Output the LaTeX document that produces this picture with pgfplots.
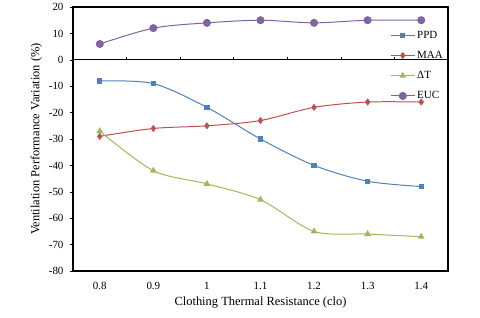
\documentclass[border=0pt]{standalone}
\usepackage{fontspec}
\setmainfont{Liberation Serif}
\usepackage{pgfplots}
\pgfplotsset{compat=1.18}
\definecolor{cPPD}{HTML}{4F81BD}
\definecolor{cMAA}{HTML}{C0504D}
\definecolor{cDT}{HTML}{9BBB59}
\definecolor{cEUC}{HTML}{8064A2}
\begin{document}
\begin{tikzpicture}
\begin{axis}[
  scale only axis,
  width=375bp, height=264bp,
  xmin=0.75, xmax=1.45,
  ymin=-80, ymax=20,
  xtick={0.8,0.9,1,1.1,1.2,1.3,1.4},
  xticklabels={0.8,0.9,1,1.1,1.2,1.3,1.4},
  ytick={-80,-70,...,20},
  x tick style={draw=none},
  ytick pos=left,
  tick align=outside,
  major tick length=3bp,
  axis line style={line width=1.1pt},
  y tick style={black, line width=0.6pt},
  every tick label/.style={font=\fontsize{11}{13}\selectfont},
  /pgf/number format/assume math mode=true,
  xticklabel style={yshift=-5bp},
  yticklabel style={xshift=-3bp},
  xlabel={Clothing Thermal Resistance (clo)},
  ylabel={Ventilation Performance Variation (\%)},
  label style={font=\fontsize{12.5}{14}\selectfont},
  ylabel style={yshift=0bp},
  legend style={at={(1,0.925)}, anchor=north east, draw=none, fill=none,
    font=\fontsize{11}{13}\selectfont, row sep=7.5bp,
    /tikz/every even column/.append style={column sep=2bp}},
  legend cell align=left,
  legend image code/.code={
    \draw[mark repeat=2,mark phase=2] plot coordinates {(0bp,0bp) (12bp,0bp) (24bp,0bp)};
  },
  every axis plot/.append style={line width=1pt, smooth, tension=0.5},
  clip=false,
]
\draw[line width=0.8pt] (axis cs:0.75,0) -- (axis cs:1.45,0);
\pgfplotsinvokeforeach{0.85,0.95,1.05,1.15,1.25,1.35}{
  \draw[line width=0.6pt] (axis cs:#1,0) -- ([yshift=3bp]axis cs:#1,0);
}
\addplot[color=cPPD, mark=square*, mark size=2.2bp, mark options={solid}] coordinates {
(0.8,-8) (0.9,-9) (1.0,-18) (1.1,-30) (1.2,-40) (1.3,-46) (1.4,-48)};
\addlegendentry{PPD}
\addplot[color=cMAA, mark=diamond*, mark size=2.8bp, mark options={solid}] coordinates {
(0.8,-29) (0.9,-26) (1.0,-25) (1.1,-23) (1.2,-18) (1.3,-16) (1.4,-16)};
\addlegendentry{MAA}
\addplot[color=cDT, mark=triangle*, mark size=3bp, mark options={solid}] coordinates {
(0.8,-27) (0.9,-42) (1.0,-47) (1.1,-53) (1.2,-65) (1.3,-66) (1.4,-67)};
\addlegendentry{ΔT}
\addplot[color=cEUC, mark=*, mark size=3.5bp, mark options={solid}] coordinates {
(0.8,6) (0.9,12) (1.0,14) (1.1,15) (1.2,14) (1.3,15) (1.4,15)};
\addlegendentry{EUC}
\coordinate (bl) at (rel axis cs:0,0);
\coordinate (tr) at (rel axis cs:1,1);
\end{axis}
\useasboundingbox ([shift={(-73bp,-46bp)}]bl) rectangle ([shift={(32bp,7bp)}]tr);
\end{tikzpicture}
\end{document}
